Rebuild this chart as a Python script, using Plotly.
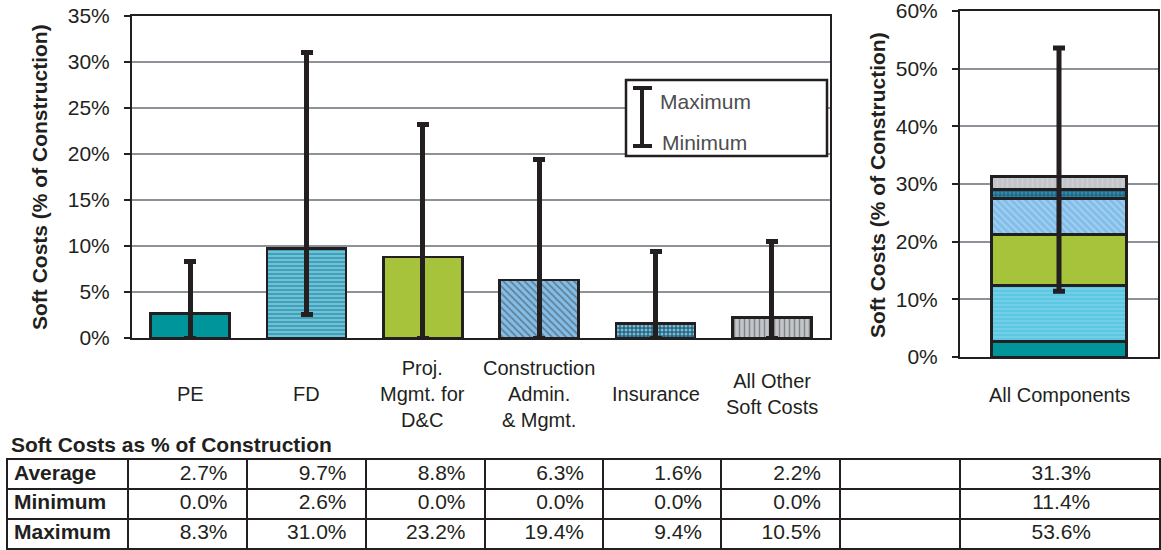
import plotly.graph_objects as go

# ---------------- data ----------------
categories = ["PE", "FD", "Proj. Mgmt. for D&C", "Construction Admin. & Mgmt.",
              "Insurance", "All Other Soft Costs"]
category_labels = ["PE", "FD", "Proj.<br>Mgmt. for<br>D&C",
                   "Construction<br>Admin.<br>& Mgmt.", "Insurance",
                   "All Other<br>Soft Costs"]
average = [2.7, 9.7, 8.8, 6.3, 1.6, 2.2]
minimum = [0.0, 2.6, 0.0, 0.0, 0.0, 0.0]
maximum = [8.3, 31.0, 23.2, 19.4, 9.4, 10.5]

total_label = "All Components"
total_average = 31.3
total_minimum = 11.4
total_maximum = 53.6

row_labels = ["Average", "Minimum", "Maximum"]
left_ticks = [0, 5, 10, 15, 20, 25, 30, 35]
right_ticks = [0, 10, 20, 30, 40, 50, 60]

# ---------------- styles / layout ----------------
W, H = 1161, 550
FONT = "Liberation Sans, Arial, Helvetica, sans-serif"
INK = "#231f20"
GRID = "#8c9298"
FS = 21
FS_CAT = 20

bg_colors = ["#00959a", "#5cc8e3", "#a6c33b", "#82bee9", "#1b6a8a", "#c2c5c9"]
fg_colors = ["#00959a", "#9adcf0", "#a6c33b", "#c8e4f8", "#53a9c8", "#d9dbdd"]
shapes_pat = ["", "-", "", "\\", ".", "|"]
pat_size = [6, 4, 6, 5, 4, 5]
pat_solid = [0.3, 0.35, 0.3, 0.35, 0.45, 0.3]

# table geometry (pixel units on the table's own axis)
col_edges = [8, 127.5, 246.5, 365.5, 484.5, 603, 721, 840, 959.5, 1159]


def px_x(p):
    return p / W


def px_y(p):
    return 1 - p / H


def fmt(v):
    return f"{v:.1f}%"


fig = go.Figure()

# left chart: one bar per component with min / max whiskers
fig.add_trace(go.Bar(
    x=categories, y=average, width=0.68,
    marker=dict(color=bg_colors, line=dict(color=INK, width=2.8),
                pattern=dict(shape=shapes_pat, fgcolor=fg_colors, bgcolor=bg_colors,
                             size=pat_size, solidity=pat_solid)),
    error_y=dict(type="data", symmetric=False,
                 array=[mx - a for mx, a in zip(maximum, average)],
                 arrayminus=[a - mn for a, mn in zip(average, minimum)],
                 color=INK, thickness=5, width=6),
    xaxis="x", yaxis="y", showlegend=False, hoverinfo="skip",
))

# right chart: stacked components
for i, cat in enumerate(categories):
    fig.add_trace(go.Bar(
        x=[total_label], y=[average[i]], width=0.68, name=cat,
        marker=dict(color=bg_colors[i], line=dict(color=INK, width=2.8),
                    pattern=dict(shape=shapes_pat[i], fgcolor=fg_colors[i],
                                 bgcolor=bg_colors[i], size=pat_size[i],
                                 solidity=pat_solid[i])),
        xaxis="x2", yaxis="y2", showlegend=False, hoverinfo="skip",
    ))

fig.add_trace(go.Scatter(
    x=[total_label], y=[total_average], mode="markers",
    marker=dict(size=1, opacity=0),
    error_y=dict(type="data", symmetric=False,
                 array=[total_maximum - total_average],
                 arrayminus=[total_average - total_minimum],
                 color=INK, thickness=5, width=6),
    xaxis="x2", yaxis="y2", showlegend=False, hoverinfo="skip",
))

# ---------------- table (on its own axes) ----------------
rows = [average, minimum, maximum]
totals = [total_average, total_minimum, total_maximum]
row_pos = [0.5, 1.5, 2.5]

fig.add_trace(go.Scatter(
    x=[col_edges[0] + 6] * 3, y=row_pos, mode="text",
    text=[f"<b>{r}</b>" for r in row_labels], textposition="middle right",
    textfont=dict(family=FONT, size=FS, color=INK),
    xaxis="x3", yaxis="y3", showlegend=False, hoverinfo="skip",
))
num_x, num_y, num_t = [], [], []
for r, vals in enumerate(rows):
    for c, v in enumerate(vals):
        num_x.append(col_edges[c + 2] - 19)
        num_y.append(row_pos[r])
        num_t.append(fmt(v))
fig.add_trace(go.Scatter(
    x=num_x, y=num_y, mode="text", text=num_t, textposition="middle left",
    textfont=dict(family=FONT, size=FS, color=INK),
    xaxis="x3", yaxis="y3", showlegend=False, hoverinfo="skip",
))
fig.add_trace(go.Scatter(
    x=[(col_edges[-2] + col_edges[-1]) / 2 + 2] * 3, y=row_pos, mode="text",
    text=[fmt(t) for t in totals], textposition="middle center",
    textfont=dict(family=FONT, size=FS, color=INK),
    xaxis="x3", yaxis="y3", showlegend=False, hoverinfo="skip",
))

# ---------------- annotations ----------------
annotations = []
for cat, lab in zip(categories, category_labels):
    annotations.append(dict(x=cat, y=px_y(394), xref="x", yref="paper", text=lab,
                            showarrow=False, yanchor="middle", xanchor="center",
                            font=dict(family=FONT, size=FS_CAT, color=INK)))
annotations.append(dict(x=total_label, y=px_y(395), xref="x2", yref="paper",
                        text=total_label, showarrow=False, yanchor="middle",
                        font=dict(family=FONT, size=FS_CAT, color=INK)))
annotations.append(dict(x=px_x(9), y=px_y(444), xref="paper", yref="paper",
                        text="<b>Soft Costs as % of Construction</b>", showarrow=False,
                        xanchor="left", yanchor="middle",
                        font=dict(family=FONT, size=FS, color=INK)))
annotations.append(dict(x=px_x(40), y=px_y(177), xref="paper", yref="paper",
                        text="<b>Soft Costs (% of Construction)</b>", textangle=-90,
                        showarrow=False, xanchor="center", yanchor="middle",
                        font=dict(family=FONT, size=FS, color=INK)))
annotations.append(dict(x=px_x(877), y=px_y(185), xref="paper", yref="paper",
                        text="<b>Soft Costs (% of Construction)</b>", textangle=-90,
                        showarrow=False, xanchor="center", yanchor="middle",
                        font=dict(family=FONT, size=FS, color=INK)))
# legend text
annotations.append(dict(x=px_x(658), y=px_y(102), xref="paper", yref="paper",
                        text="Maximum", showarrow=False, xanchor="left", yanchor="middle",
                        font=dict(family=FONT, size=FS, color="#4d4d4f")))
annotations.append(dict(x=px_x(660), y=px_y(142), xref="paper", yref="paper",
                        text="Minimum", showarrow=False, xanchor="left", yanchor="middle",
                        font=dict(family=FONT, size=FS, color="#4d4d4f")))

shapes = [
    dict(type="rect", xref="paper", yref="paper", x0=px_x(626), x1=px_x(827),
         y0=px_y(156), y1=px_y(80), line=dict(color=INK, width=2.5), fillcolor="white",
         layer="above"),
    dict(type="line", xref="paper", yref="paper", x0=px_x(642), x1=px_x(642),
         y0=px_y(147), y1=px_y(87), line=dict(color=INK, width=4), layer="above"),
    dict(type="line", xref="paper", yref="paper", x0=px_x(633), x1=px_x(652),
         y0=px_y(88), y1=px_y(88), line=dict(color=INK, width=4), layer="above"),
    dict(type="line", xref="paper", yref="paper", x0=px_x(633), x1=px_x(652),
         y0=px_y(146), y1=px_y(146), line=dict(color=INK, width=4), layer="above"),
]

axis_common = dict(showline=True, linecolor=INK, linewidth=2, mirror=True,
                   automargin=False)
yaxis_common = dict(ticks="outside", ticklen=6, tickwidth=2, tickcolor=INK,
                    showgrid=True, gridcolor=GRID, gridwidth=2, ticklabelstandoff=10,
                    ticklabeloverflow="allow",
                    zeroline=False, tickfont=dict(family=FONT, size=FS, color=INK))

fig.update_layout(
    width=W, height=H, margin=dict(l=0, r=0, t=0, b=0, autoexpand=False),
    paper_bgcolor="white", plot_bgcolor="white",
    font=dict(family=FONT, size=FS, color=INK),
    barmode="stack",
    xaxis=dict(domain=[px_x(132), px_x(830)], anchor="y", showticklabels=False,
               ticks="", range=[-0.5, 5.5], categoryorder="array",
               categoryarray=categories, **axis_common),
    yaxis=dict(domain=[px_y(338), px_y(16)], anchor="x", range=[0, 35],
               tickvals=left_ticks, ticktext=[f"{v}%" for v in left_ticks],
               **yaxis_common, **axis_common),
    xaxis2=dict(domain=[px_x(960), px_x(1158)], anchor="y2", showticklabels=False,
                ticks="", range=[-0.5, 0.5], **axis_common),
    yaxis2=dict(domain=[px_y(357), px_y(11)], anchor="x2", range=[0, 60],
                tickvals=right_ticks, ticktext=[f"{v}%" for v in right_ticks],
                **yaxis_common, **axis_common),
    xaxis3=dict(domain=[px_x(col_edges[0]), px_x(col_edges[-1])], anchor="y3",
                range=[col_edges[0], col_edges[-1]], tickvals=col_edges,
                showticklabels=False, ticks="", showgrid=True, gridcolor=INK,
                gridwidth=2, zeroline=False, fixedrange=True,
                showline=True, linecolor=INK, linewidth=2, mirror=True,
                automargin=False),
    yaxis3=dict(domain=[px_y(548), px_y(459.5)], anchor="x3", range=[3, 0],
                tickvals=[0, 1, 2, 3], showticklabels=False, ticks="",
                showgrid=True, gridcolor=INK, gridwidth=2, zeroline=False,
                fixedrange=True, showline=True, linecolor=INK, linewidth=2,
                mirror=True, automargin=False),
    annotations=annotations,
    shapes=shapes,
)

fig.write_html(
    "out.html",
    config={"displayModeBar": False},
    post_script="document.body.style.margin='0px';document.body.style.overflow='hidden';",
)
